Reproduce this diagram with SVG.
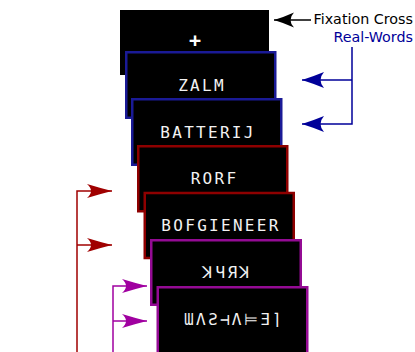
<svg xmlns="http://www.w3.org/2000/svg" width="415" height="352" viewBox="0 0 415 352">
<style>
  .scr { fill: #000; stroke-width: 2.5; }
  .blue { stroke: #1a1a96; }
  .red { stroke: #8e0000; }
  .purple { stroke: #940b94; }
  .word { font-family: "DejaVu Sans Mono", "Liberation Mono", monospace; font-size: 16px; letter-spacing: 2.3px; fill: #f2f2f2; text-anchor: middle; }
  .lbl { font-family: "DejaVu Sans", "Liberation Sans", sans-serif; font-size: 14.3px; text-anchor: end; }
  .con { fill: none; stroke-width: 1.5; }
</style>
<defs>
  <marker id="ahK" markerUnits="userSpaceOnUse" orient="auto" refX="0" refY="0" markerWidth="30" markerHeight="20" overflow="visible">
    <path d="M0,0 Q-10,-3 -20,-7.5 Q-13,0 -20,7.5 Q-10,3 0,0 Z" fill="#000"/>
  </marker>
  <marker id="ahB" markerUnits="userSpaceOnUse" orient="auto" refX="0" refY="0" markerWidth="30" markerHeight="20" overflow="visible">
    <path d="M0,0 Q-11,-3.5 -22,-8 Q-15,0 -22,8 Q-11,3.5 0,0 Z" fill="#000099"/>
  </marker>
  <marker id="ahR" markerUnits="userSpaceOnUse" orient="auto" refX="0" refY="0" markerWidth="30" markerHeight="20" overflow="visible">
    <path d="M0,0 Q-12,-3 -25,-7 Q-17,0 -25,7 Q-12,3 0,0 Z" fill="#a00000"/>
  </marker>
  <marker id="ahP" markerUnits="userSpaceOnUse" orient="auto" refX="0" refY="0" markerWidth="30" markerHeight="20" overflow="visible">
    <path d="M0,0 Q-12,-3 -25,-7 Q-17,0 -25,7 Q-12,3 0,0 Z" fill="#a000a0"/>
  </marker>
</defs>

<g id="fixation">
  <rect x="120" y="10" width="149" height="65" fill="#000"/>
  <text x="195" y="47" font-family="DejaVu Sans Mono, monospace" font-size="20" font-weight="bold" fill="#fff" text-anchor="middle">+</text>
</g>
<g id="zalm">
  <rect class="scr blue" x="126.25" y="52.25" width="149" height="65.5"/>
  <text class="word" x="202" y="91">ZALM</text>
</g>
<g id="batterij">
  <rect class="scr blue" x="132.25" y="99.25" width="149" height="65.5"/>
  <text class="word" x="208" y="138">BATTERIJ</text>
</g>
<g id="rorf">
  <rect class="scr red" x="138.25" y="146.25" width="149" height="65"/>
  <text class="word" x="214.5" y="184">RORF</text>
</g>
<g id="bofgieneer">
  <rect class="scr red" x="144.75" y="193" width="149" height="65"/>
  <text class="word" x="221" y="231">BOFGIENEER</text>
</g>
<g id="falsefont1">
  <rect class="scr purple" x="151.25" y="240.25" width="149.5" height="64.5"/>
  <text class="word" x="227.5" y="278">ꓘЧЯꓘ</text>
</g>
<g id="falsefont2">
  <rect class="scr purple" x="157.75" y="287.25" width="149.5" height="70"/>
  <text class="word" x="234" y="325">ƜΛƧ⊣Λ⊨Ǝ⌉</text>
</g>

<g id="labels">
  <text class="lbl" x="413" y="24" fill="#000">Fixation Cross</text>
  <text class="lbl" x="413" y="42" fill="#000099">Real-Words</text>
</g>

<g id="connectors">
  <path class="con" d="M311,20 H274" stroke="#000" marker-end="url(#ahK)"/>
  <path class="con" d="M352,47 V124 H302" stroke="#000099" marker-end="url(#ahB)"/>
  <path class="con" d="M352,80 H302" stroke="#000099" marker-end="url(#ahB)"/>
  <path class="con" d="M77,352 V191 H112" stroke="#a00000" marker-end="url(#ahR)"/>
  <path class="con" d="M77,245 H112" stroke="#a00000" marker-end="url(#ahR)"/>
  <path class="con" d="M113,352 V286 H147" stroke="#a000a0" marker-end="url(#ahP)"/>
  <path class="con" d="M113,321 H147" stroke="#a000a0" marker-end="url(#ahP)"/>
</g>
</svg>
